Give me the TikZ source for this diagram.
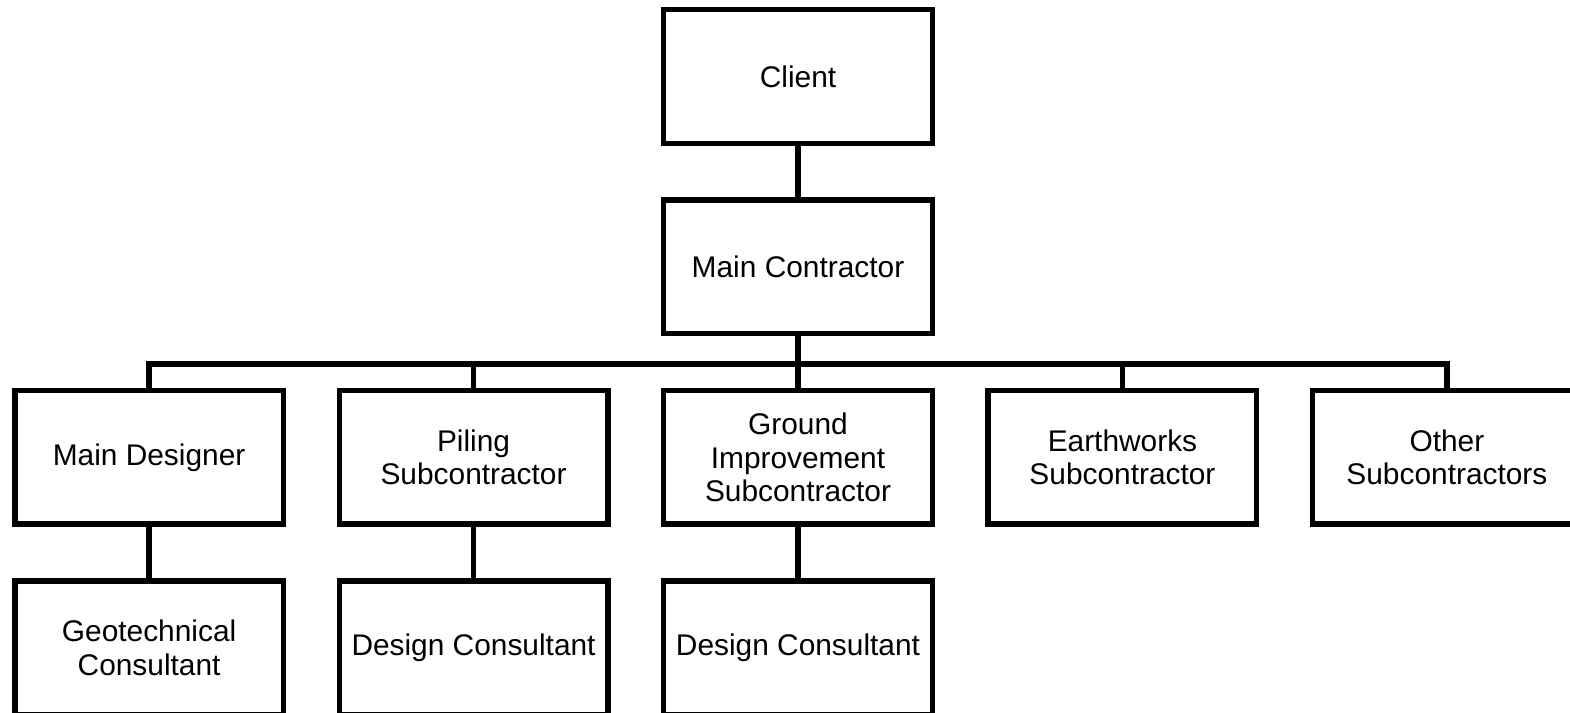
\documentclass[tikz,border=0pt]{standalone}
\usepackage{fontspec}
\setmainfont{Liberation Sans}
\usetikzlibrary{positioning}

\tikzset{
  party/.style={draw, line width=3.1pt, minimum width=5.37cm, minimum height=2.67cm,
    align=center, inner sep=2pt, font=\fontsize{17}{19}\selectfont},
  link/.style={line width=3.1pt}
}

\begin{document}
\begin{tikzpicture}[node distance=1.03cm and 1.01cm]
		%%%%% frame %%%%%
		\useasboundingbox (0,0) rectangle (31.4,-14.26);
		\clip (0,0) rectangle (31.4,-14.26);

		%%%%% top of the tree %%%%%
		\node[party] (client) at (15.96,-1.53) {Client};
		\node[party, below=of client] (mc) {Main Contractor};

		%%%%% subcontractors %%%%%
		\node[party, below=of mc] (gi) {Ground\\Improvement\\Subcontractor};
		\node[party, left=of gi] (pile) {Piling\\Subcontractor};
		\node[party, left=of pile] (md) {Main Designer};
		\node[party, right=of gi] (earth) {Earthworks\\Subcontractor};
		\node[party, right=of earth] (other) {Other\\Subcontractors};

		%%%%% consultants %%%%%
		\node[party, below=of md] (geo) {Geotechnical\\Consultant};
		\node[party, below=of pile] (pdc) {Design Consultant};
		\node[party, below=of gi] (gdc) {Design Consultant};

		%%%%% links %%%%%
		\draw[link] (client) -- (mc);
		\draw[link] (mc.south) -- ++(0,-0.55) coordinate (bus);
		\draw[link] (md.north) |- (bus) -| (other.north);
		\foreach \n in {pile, gi, earth}
			\draw[link] (\n.north) -- (\n.north |- bus);

		\draw[link] (md) -- (geo);
		\draw[link] (pile) -- (pdc);
		\draw[link] (gi) -- (gdc);
\end{tikzpicture}
\end{document}
